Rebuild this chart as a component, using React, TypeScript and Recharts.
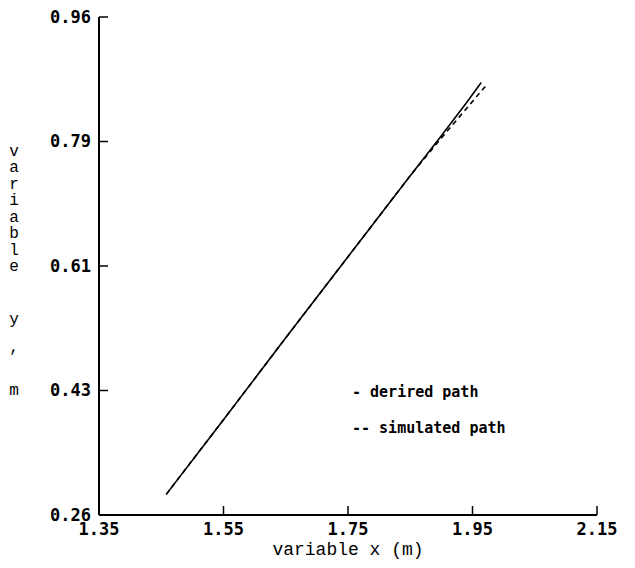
import { LineChart, Line, XAxis, YAxis, Legend } from 'recharts';

// axis ticks
const xTicks = [1.35, 1.55, 1.75, 1.95, 2.15];
const yTicks = [0.26, 0.435, 0.61, 0.785, 0.96];
const yTickLabels = ['0.26', '0.43', '0.61', '0.79', '0.96'];

// desired path
const desiredX = [1.458, 1.55, 1.65, 1.75, 1.85, 1.9, 1.94, 1.964];
const desiredY = [0.289, 0.394, 0.509, 0.623, 0.737, 0.793, 0.839, 0.868];

// simulated path
const simX = [1.458, 1.55, 1.65, 1.75, 1.85, 1.9, 1.939, 1.974];
const simY = [0.289, 0.394, 0.509, 0.623, 0.737, 0.79, 0.83, 0.866];

const yTitle = ['v', 'a', 'r', 'i', 'a', 'b', 'l', 'e', 'y', ',', 'm'];

const desired = desiredX.map((x, i) => ({ x, y: desiredY[i] }));
const simulated = simX.map((x, i) => ({ x, y: simY[i] }));

const FONT = '"DejaVu Sans Mono", monospace';
const axisLine = { stroke: '#000', strokeWidth: 2 };
const TICK = 9;

// rows of the stacked y-axis title
const titleRows = [151, 167, 184, 200, 217, 233, 250, 266, 319, 347, 390];

const YTitle = () => (
  <text x={14} textAnchor="middle" fontFamily='"Liberation Mono", monospace' fontSize={16} fill="#000">
    {yTitle.map((c, i) => (
      <tspan key={i} x={14} y={titleRows[i] + 5}>
        {c}
      </tspan>
    ))}
  </text>
);

// inward tick marks, drawn by each axis's tick renderer
const BottomTick = ({ x, y, payload }: any) => (
  <g>
    <line x1={x} y1={y} x2={x} y2={y - TICK} stroke="#000" strokeWidth={1.5} />
    <text x={x} y={y + 8} dy="0.71em" textAnchor="middle" fontFamily={FONT} fontSize={17} fontWeight="bold" fill="#000">
      {payload.value.toFixed(2)}
    </text>
  </g>
);

const TopTick = ({ x, y }: any) => (
  <line x1={x} y1={y} x2={x} y2={y + TICK + 1} stroke="#000" strokeWidth={1.5} />
);

const LeftTick = ({ x, y, payload }: any) => (
  <g>
    <line x1={x} y1={y} x2={x + TICK} y2={y} stroke="#000" strokeWidth={1.5} />
    <text x={x - 8} y={y} dy="0.35em" textAnchor="end" fontFamily={FONT} fontSize={17} fontWeight="bold" fill="#000">
      {yTickLabels[yTicks.indexOf(payload.value)]}
    </text>
  </g>
);

const RightTick = ({ x, y }: any) => (
  <line x1={x} y1={y} x2={x - TICK} y2={y} stroke="#000" strokeWidth={1.5} />
);

const LegendText = () => (
  <div
    style={{
      fontFamily: FONT,
      fontSize: 15,
      fontWeight: 'bold',
      color: '#000',
      whiteSpace: 'pre',
      lineHeight: '36px',
    }}
  >
    <div>- derired path</div>
    <div>-- simulated path</div>
  </div>
);

const xDomain = [1.35, 2.15];
const yDomain = [0.26, 0.96];

export default function App() {
  return (
    <div style={{ position: 'absolute', left: 0, top: 0, background: '#fff' }}>
      <LineChart width={635} height={568} margin={{ top: 17, right: 38, bottom: 13, left: 39 }}>
        <XAxis
          xAxisId="bottom"
          dataKey="x"
          type="number"
          domain={xDomain}
          ticks={xTicks}
          interval={0}
          height={40}
          tickSize={0}
          tickMargin={0}
          tick={<BottomTick />}
          axisLine={axisLine}
          tickLine={false}
          allowDataOverflow
          label={{
            value: 'variable x (m)',
            position: 'insideBottom',
            offset: 0,
            style: { fontFamily: '"Liberation Mono", monospace', fontSize: 18, fill: '#000' },
          }}
        />
        <XAxis
          xAxisId="top"
          orientation="top"
          dataKey="x"
          type="number"
          domain={xDomain}
          ticks={xTicks}
          interval={0}
          height={0}
          tickSize={0}
          tickMargin={0}
          tick={<TopTick />}
          axisLine={axisLine}
          tickLine={false}
          allowDataOverflow
        />
        <YAxis
          yAxisId="left"
          type="number"
          domain={yDomain}
          ticks={yTicks}
          interval={0}
          width={60}
          tickSize={0}
          tickMargin={0}
          tick={<LeftTick />}
          axisLine={axisLine}
          tickLine={false}
          allowDataOverflow
          label={<YTitle />}
        />
        <YAxis
          yAxisId="right"
          orientation="right"
          type="number"
          domain={yDomain}
          ticks={yTicks}
          interval={0}
          width={0}
          tickSize={0}
          tickMargin={0}
          tick={<RightTick />}
          axisLine={axisLine}
          tickLine={false}
          allowDataOverflow
        />
        <Legend
          layout="horizontal"
          verticalAlign="middle"
          content={<LegendText />}
          wrapperStyle={{ position: 'absolute', left: 352, top: 374, width: 'auto' }}
        />
        <Line
          xAxisId="bottom"
          yAxisId="left"
          data={desired}
          dataKey="y"
          type="linear"
          stroke="#000"
          strokeWidth={1.6}
          dot={false}
          isAnimationActive={false}
        />
        <Line
          xAxisId="bottom"
          yAxisId="left"
          data={simulated}
          dataKey="y"
          type="linear"
          stroke="#000"
          strokeWidth={1.6}
          strokeDasharray="5 4"
          dot={false}
          isAnimationActive={false}
        />
      </LineChart>
    </div>
  );
}
